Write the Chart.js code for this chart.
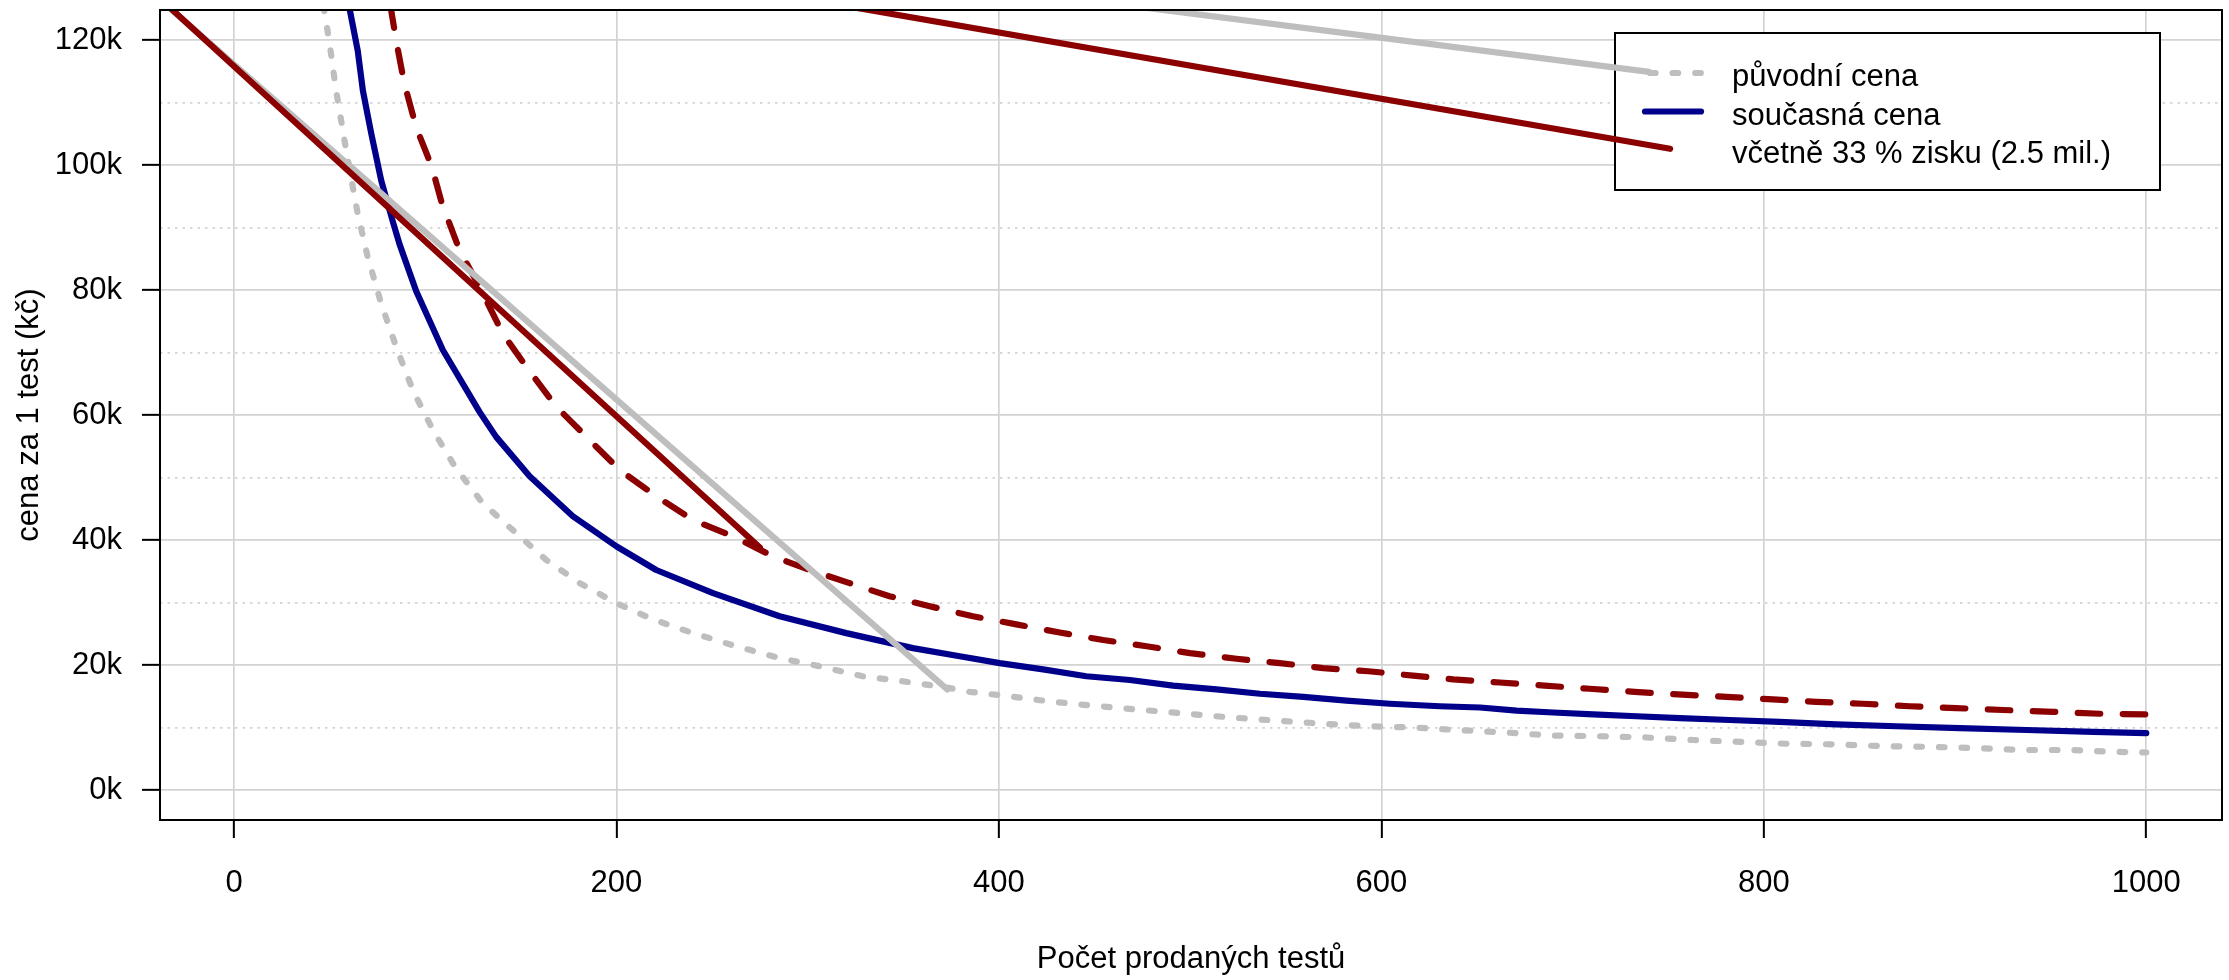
<!DOCTYPE html>
<html>
<head>
<meta charset="utf-8">
<title>Cena za 1 test</title>
<script src="https://cdn.jsdelivr.net/npm/chart.js@4.4.1/dist/chart.umd.min.js"></script>
<style>
    html, body { margin: 0; padding: 0; background: #fff; }
    canvas { display: block; }
</style>
</head>
<body>
<canvas id="chart" width="2229" height="980"></canvas>
<script>
'use strict';

// osy
var xTicks = [0, 200, 400, 600, 800, 1000];
var yTicks = [0, 20000, 40000, 60000, 80000, 100000, 120000];
var yTickLabels = ['0k', '20k', '40k', '60k', '80k', '100k', '120k'];
var yMinorTicks = [10000, 30000, 50000, 70000, 90000, 110000];

var legendLabels = ['původní cena', 'současná cena', 'včetně 33 % zisku (2.5 mil.)'];

// původní cena (tečkovaně)
var puvodniX = [46.8, 50, 53.4, 57.8, 62.1, 64.7, 69.9, 77, 84.8, 93.5, 104, 116, 130, 147.6, 163.3, 180.8, 200, 219, 240, 262.6,
    285.3, 306.2, 328.8, 349.7, 372.5, 384.7, 405.6, 428.3, 452.7, 475.4, 498.1, 521.6, 545.1, 569.6, 592.3, 616.6, 639.2, 665.4,
    689.9, 714.4, 738.8, 763.2, 787.7, 812.1, 838.3, 862.7, 887.3, 911.2, 935.6, 960, 984.5, 1000];
var puvodniY = [125500, 119400, 111900, 103900, 96500, 92200, 85300, 77800, 70900, 64000, 57600, 51500, 45900, 41100, 36800, 33100,
    29900, 27300, 25100, 23000, 21100, 19800, 18200, 17400, 16400, 15700, 15000, 14100, 13400, 12800, 12200, 11600, 11100, 10600,
    10200, 10000, 9600, 9200, 8700, 8600, 8400, 8000, 7700, 7400, 7300, 7000, 6900, 6700, 6400, 6400, 6100, 6000];

// současná cena
var soucasnaX = [59.8, 64.7, 67.4, 71.8, 77, 83, 86.6, 95.3, 109.2, 128.4, 137.1, 154.6, 177.2, 199.9, 220.8, 250.5, 285.3, 320.2,
    355, 379.5, 400.4, 423.1, 445.7, 468.5, 491.1, 513.8, 536.5, 559.2, 581.8, 604.5, 630.5, 651.6, 670.7, 689.9, 710.8, 733.5,
    756, 782.2, 808.3, 837.9, 869.3, 902.5, 937.4, 972.3, 1000];
var soucasnaY = [126000, 118300, 111900, 105000, 97500, 91000, 87300, 79800, 70400, 60500, 56500, 50200, 43800, 39000, 35200, 31500,
    27800, 25100, 22700, 21400, 20300, 19300, 18200, 17600, 16700, 16100, 15400, 14900, 14300, 13800, 13400, 13200, 12700, 12400,
    12100, 11800, 11500, 11200, 10900, 10500, 10200, 9900, 9600, 9300, 9100];

// včetně zisku (čárkovaně)
var ziskX = [81.8, 84.8, 89.1, 95.3, 101.4, 104.9, 109.2, 112.6, 117.9, 128.4, 140.6, 152.9, 168.6, 184.3, 201.7, 220.8, 240, 260.9,
    281.8, 301, 321.9, 342.8, 363.8, 386.4, 409.1, 431.8, 454.5, 477.2, 499.9, 524.3, 546.9, 569.6, 593.2, 616.6, 637.6, 662,
    685.4, 708.9, 732.4, 755, 780.4, 804.8, 827.4, 851.8, 876.3, 900.7, 925.1, 951.3, 975.8, 1000];
var ziskY = [125500, 119900, 113000, 106000, 101300, 98100, 93300, 90700, 86400, 80500, 73000, 67700, 61300, 56500, 51200, 47000,
    43200, 40600, 37400, 35200, 33100, 31000, 29400, 27800, 26500, 25200, 24000, 23000, 21900, 21000, 20300, 19500, 19000, 18300,
    17700, 17200, 16700, 16200, 15700, 15300, 14900, 14500, 14100, 13800, 13400, 13100, 12800, 12500, 12200, 12100];

// přímky
var puvodniPrimkaX = [-50, 373];
var puvodniPrimkaY = [129500, 16100];
var ziskPrimkaX = [-50, 275];
var ziskPrimkaY = [129800, 38800];
var ziskHorniX = [300, 751];
var ziskHorniY = [126500, 102600];
var puvodniHorniX = [450, 740];
var puvodniHorniY = [126200, 114900];

var gray = '#bebebe';
var blue = '#00008b';
var red = '#8b0000';
var gridColor = '#d3d3d3';
var fontFamily = '"Liberation Sans", Arial, sans-serif';
var lineWidth = 6.2;

var toPoints = function (xs, ys) {
    return xs.map(function (x, i) {
        return { x: x, y: ys[i] };
    });
};

var makeLine = function (xs, ys, color, dash) {
    return {
        data: toPoints(xs, ys),
        showLine: true,
        borderColor: color,
        borderWidth: lineWidth,
        borderDash: dash || [],
        borderCapStyle: 'round',
        borderJoinStyle: 'round',
        pointRadius: 0,
        tension: 0,
        clip: 0
    };
};

var isMajor = function (value) {
    return yTicks.indexOf(value) !== -1;
};

// rámeček kolem grafu
var boxPlugin = {
    id: 'box',
    afterDraw: function (chart) {
        var a = chart.chartArea;
        var ctx = chart.ctx;
        ctx.save();
        ctx.strokeStyle = '#000';
        ctx.lineWidth = 2;
        ctx.strokeRect(a.left, a.top, a.right - a.left, a.bottom - a.top);
        ctx.restore();
    }
};

// legenda ve stylu R
var legendPlugin = {
    id: 'rLegend',
    beforeDatasetsDraw: function (chart) {
        var a = chart.chartArea;
        var ctx = chart.ctx;
        var left = a.right - 607;
        var top = a.top + 23;
        var rows = [top + 40, top + 78.5, top + 117];

        ctx.save();
        ctx.fillStyle = '#fff';
        ctx.fillRect(left, top, 545, 157);
        ctx.strokeStyle = '#000';
        ctx.lineWidth = 2;
        ctx.strokeRect(left, top, 545, 157);

        ctx.lineWidth = lineWidth;
        ctx.lineCap = 'round';
        ctx.strokeStyle = gray;
        ctx.setLineDash([5.6, 17]);
        ctx.beginPath();
        ctx.moveTo(left + 35, rows[0]);
        ctx.lineTo(left + 89, rows[0]);
        ctx.stroke();

        ctx.setLineDash([]);
        ctx.strokeStyle = blue;
        ctx.beginPath();
        ctx.moveTo(left + 30, rows[1]);
        ctx.lineTo(left + 86, rows[1]);
        ctx.stroke();

        ctx.fillStyle = '#000';
        ctx.font = '31px ' + fontFamily;
        ctx.textBaseline = 'alphabetic';
        ctx.textAlign = 'left';
        for (var i = 0; i < legendLabels.length; i++) {
            ctx.fillText(legendLabels[i], left + 117, rows[i] + 13);
        }
        ctx.restore();
    }
};

Chart.defaults.font.family = fontFamily;
Chart.defaults.font.size = 31;
Chart.defaults.color = '#000';

var chart = new Chart(document.getElementById('chart').getContext('2d'), {
    type: 'scatter',
    data: {
        datasets: [
            makeLine(puvodniHorniX, puvodniHorniY, gray),
            makeLine(ziskHorniX, ziskHorniY, red),
            makeLine(ziskPrimkaX, ziskPrimkaY, red),
            makeLine(puvodniPrimkaX, puvodniPrimkaY, gray),
            makeLine(ziskX, ziskY, red, [22.5, 22.5]),
            makeLine(soucasnaX, soucasnaY, blue),
            makeLine(puvodniX, puvodniY, gray, [5.6, 17])
        ]
    },
    options: {
        responsive: false,
        animation: false,
        devicePixelRatio: 1,
        layout: { padding: { left: 0, right: 7, top: 10, bottom: 0 } },
        plugins: {
            legend: { display: false },
            tooltip: { enabled: false }
        },
        scales: {
            x: {
                type: 'linear',
                position: 'bottom',
                min: -38.7,
                max: 1039.6,
                afterBuildTicks: function (scale) {
                    scale.ticks = xTicks.map(function (v) { return { value: v }; });
                },
                afterFit: function (scale) {
                    scale.height = 160;
                    scale.paddingLeft = 0;
                    scale.paddingRight = 0;
                },
                ticks: {
                    padding: 27,
                    maxRotation: 0,
                    autoSkip: false,
                    callback: function (value) { return String(value); }
                },
                grid: {
                    color: gridColor,
                    lineWidth: 1.7,
                    tickColor: '#000',
                    tickLength: 18,
                    tickWidth: 2
                },
                border: { display: false },
                title: {
                    display: true,
                    text: 'Počet prodaných testů',
                    padding: { top: 0, bottom: 2 }
                }
            },
            y: {
                type: 'linear',
                position: 'left',
                min: -4800,
                max: 124800,
                afterBuildTicks: function (scale) {
                    scale.ticks = yTicks.concat(yMinorTicks).sort(function (p, q) { return p - q; })
                        .map(function (v) { return { value: v }; });
                },
                afterFit: function (scale) {
                    scale.width = 160;
                    scale.paddingTop = 0;
                    scale.paddingBottom = 0;
                },
                ticks: {
                    padding: 20,
                    autoSkip: false,
                    callback: function (value) {
                        var i = yTicks.indexOf(value);
                        return i === -1 ? '' : yTickLabels[i];
                    }
                },
                grid: {
                    color: gridColor,
                    lineWidth: 1.7,
                    tickLength: 18,
                    tickWidth: 2,
                    tickColor: function (ctx) {
                        return ctx.tick && !isMajor(ctx.tick.value) ? 'rgba(0,0,0,0)' : '#000';
                    }
                },
                border: {
                    display: false,
                    dash: function (ctx) {
                        return ctx.tick && !isMajor(ctx.tick.value) ? [2.5, 5] : [];
                    }
                },
                title: {
                    display: true,
                    text: 'cena za 1 test (kč)',
                    padding: { top: 11, bottom: 0 }
                }
            }
        }
    },
    plugins: [legendPlugin, boxPlugin]
});
</script>
</body>
</html>
